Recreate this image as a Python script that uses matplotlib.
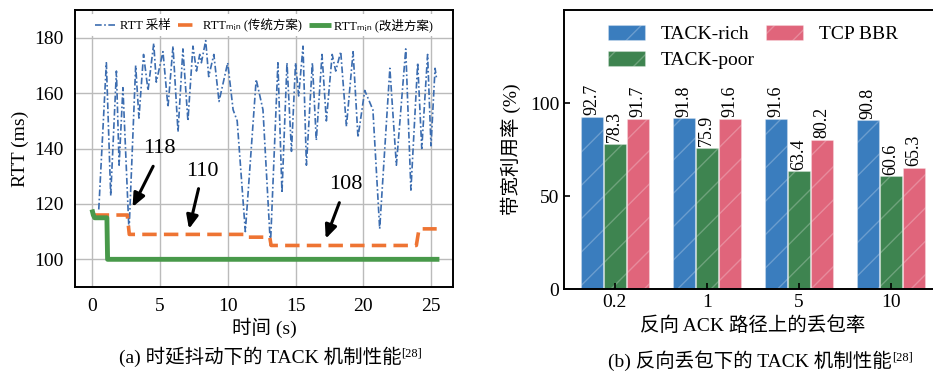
import matplotlib
matplotlib.use("Agg")
import matplotlib.pyplot as plt
import numpy as np

plt.rcParams['font.family'] = ['Liberation Serif', 'Noto Sans CJK SC', 'DejaVu Sans']
plt.rcParams['axes.unicode_minus'] = False

# ---- (a) RTT samples: peaks / troughs ----
rtt_t = [0.5, 1.06, 1.38, 1.8, 2.0, 2.28, 2.73, 3.22, 3.46, 3.8, 4.13, 4.55, 4.74,
         5.23, 5.6, 5.97, 6.34, 6.7, 7.07, 7.44, 7.7, 7.94, 8.06, 8.38, 8.6, 8.98,
         9.36, 10.0, 10.4, 10.7, 11.3, 12.1, 12.6, 13.15, 13.7, 14.0, 14.37, 14.7,
         15.0, 15.23, 15.55, 15.8, 16.24, 16.53, 16.95, 17.27, 17.7, 17.96, 18.33,
         18.75, 19.24, 19.6, 20.1, 20.7, 21.2, 21.95, 22.43, 23.12, 23.5, 24.0,
         24.3, 24.73, 24.98, 25.28, 25.4]
rtt_v = [118, 171, 123, 168, 134, 162, 110, 170, 151, 174, 161, 178, 164,
         175, 155, 177, 146, 176, 150, 177, 168, 174, 171, 179, 166, 174,
         157, 171, 154, 150, 110, 165, 154, 105, 171, 124, 171, 139,
         171, 159, 177, 134, 171, 143, 174, 150, 174, 168, 175,
         148, 175, 144, 161, 154, 111, 169, 134, 176, 125, 171,
         140, 174, 141, 169, 165]

# RTTmin, traditional scheme (step)
trad_t = [0.2, 2.6, 2.75, 11.2, 11.3, 13.1, 13.2, 23.9, 24.1, 25.4]
trad_v = [116, 116, 109, 109, 108, 108, 105, 105, 111, 111]

# RTTmin, improved scheme (step)
impr_t = [0.0, 0.1, 0.2, 1.1, 1.15, 25.6]
impr_v = [118, 116, 115, 115, 100, 100]

# ---- (b) bandwidth utilisation ----
loss_labels = ['0.2', '1', '5', '10']
tack_rich = [92.7, 91.8, 91.6, 90.8]
tack_poor = [78.3, 75.9, 63.4, 60.6]
tcp_bbr = [91.7, 91.6, 80.2, 65.3]

fig = plt.figure(figsize=(9.33, 3.76), dpi=100)


def caption(x, y, txt):
    # caption with a small superscript reference mark
    t = fig.text(x, y, txt, fontsize=14, ha='center', va='center')
    fig.axes[0].annotate('[28]', xy=(1.0, 0.98), xycoords=t, ha='left', va='top',
                         fontsize=9, annotation_clip=False)


# ---------------- left panel ----------------
ax1 = fig.add_axes([0.0804, 0.2367, 0.4051, 0.7363])
ax1.plot(rtt_t, rtt_v, color='#3C6DB0', lw=1.2, linestyle=(0, (4, 1.5, 1, 1.5)),
         label='RTT 采样')
ax1.plot(trad_t, trad_v, color='#EE7433', lw=2.6, linestyle=(0, (4, 2)),
         label='RTTₘᵢₙ (传统方案)')
ax1.plot(impr_t, impr_v, color='#48994A', lw=3.5, solid_capstyle='butt',
         label='RTTₘᵢₙ (改进方案)')

ax1.set_xlim(-1.25, 26.6)
ax1.set_ylim(90, 190)
ax1.set_xticks([0, 5, 10, 15, 20, 25])
ax1.set_yticks([100, 120, 140, 160, 180])
ax1.grid(True, color='#BBBBBB', lw=1.0)
ax1.set_axisbelow(True)
ax1.tick_params(direction='in', labelsize=14, length=0, pad=8)
for s in ax1.spines.values():
    s.set_linewidth(1.4)
ax1.set_xlabel('时间 (s)', fontsize=14, labelpad=2)
ax1.set_ylabel('RTT (ms)', fontsize=14, labelpad=4)

leg1 = ax1.legend(loc='upper center', ncol=3, fontsize=9, frameon=True,
                  handlelength=1.7, columnspacing=0.6, handletextpad=0.3,
                  borderpad=0.35, borderaxespad=0.3, bbox_to_anchor=(0.5, 1.0))
leg1.get_frame().set_edgecolor('none')
leg1.get_frame().set_alpha(1)

arrow_kw = dict(arrowstyle='-|>,head_length=0.8,head_width=0.35', color='black', lw=2.2)
ax1.annotate('', xy=(2.9, 118), xytext=(4.6, 134.5), arrowprops=arrow_kw)
ax1.text(5.0, 140, '118', fontsize=16, ha='center', va='center')
ax1.annotate('', xy=(7.1, 110), xytext=(7.9, 126.5), arrowprops=arrow_kw)
ax1.text(8.1, 131.7, '110', fontsize=16, ha='center', va='center')
ax1.annotate('', xy=(17.15, 106.5), xytext=(18.3, 121.4), arrowprops=arrow_kw)
ax1.text(18.7, 127, '108', fontsize=16, ha='center', va='center')

caption(260 / 933, 1 - 357 / 376, '(a) 时延抖动下的 TACK 机制性能')

# ---------------- right panel ----------------
ax2 = fig.add_axes([0.6045, 0.231, 0.4045, 0.742])
x = np.arange(len(loss_labels))
w = 0.24
off = 0.25
series = [(tack_rich, '#3A7DBE', 'TACK-rich', -off),
          (tack_poor, '#3E8450', 'TACK-poor', 0.0),
          (tcp_bbr, '#E0657B', 'TCP BBR', off)]
bars = {}
for vals, col, lab, dx in series:
    b = ax2.bar(x + dx, vals, w, color=col, edgecolor=(1, 1, 1, 0.25),
                hatch='/', lw=0.8, label=lab)
    bars[lab] = b
    for xi, v in zip(x + dx, vals):
        ax2.text(xi, v + 0.8, f'{v:.1f}', rotation=90, ha='center', va='bottom',
                 fontsize=13)

ax2.set_xlim(-0.55, 3.55)
ax2.set_ylim(0, 150)
ax2.set_yticks([0, 50, 100])
ax2.set_xticks(x)
ax2.set_xticklabels(loss_labels)
ax2.tick_params(direction='in', labelsize=14, length=4, width=1.2)
for s in ax2.spines.values():
    s.set_linewidth(1.4)
ax2.set_ylabel('带宽利用率 (%)', fontsize=14, labelpad=6)
ax2.set_xlabel('反向 ACK 路径上的丢包率', fontsize=14, labelpad=4)

leg2 = ax2.legend(handles=[bars['TACK-rich'], bars['TACK-poor'], bars['TCP BBR']],
                  loc='upper left', ncol=2, fontsize=14, frameon=True,
                  handlelength=1.9, handleheight=0.8, columnspacing=0.6,
                  labelspacing=0.4, handletextpad=0.8,
                  bbox_to_anchor=(0.07, 1.01))
leg2.get_frame().set_edgecolor('none')

caption(750 / 933, 1 - 361 / 376, '(b) 反向丢包下的 TACK 机制性能')

fig.savefig('out.png', dpi=100)
